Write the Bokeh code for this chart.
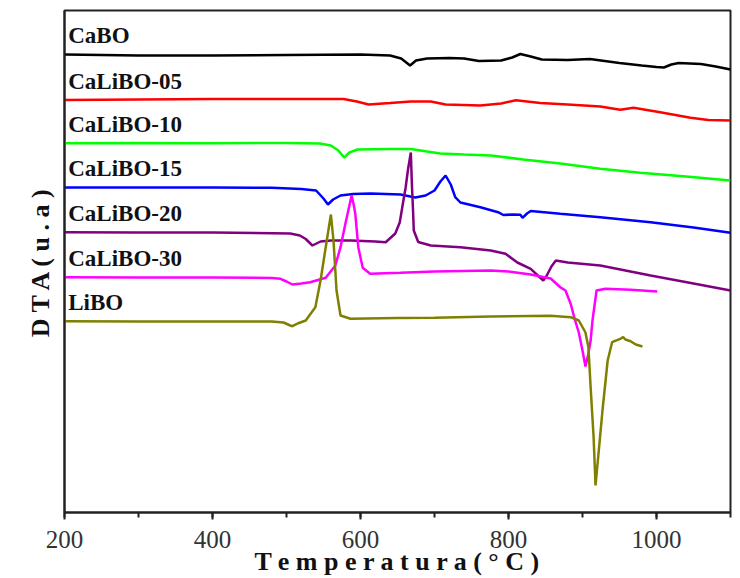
from bokeh.plotting import figure
from bokeh.models import Range1d, FixedTicker, SingleIntervalTicker
from bokeh.core.properties import value
from bokeh.embed import file_html
from bokeh.resources import INLINE

# Temperature (°C) and DTA signal (a.u., stacked traces)
cabo_t = [200, 300, 400, 500, 600, 640, 655, 667, 675, 690, 720, 740, 760, 790, 805, 816, 830, 845, 880, 910, 925, 950, 980, 1000, 1010, 1020, 1030, 1060, 1080, 1100]
cabo_y = [458, 457, 457, 457.5, 458, 457, 454, 447, 452, 454, 454.5, 454, 451.5, 452, 455, 458.5, 456, 453, 452.5, 453.5, 452, 449.5, 447, 445.5, 445, 448, 449.5, 448.5, 446, 443]

calibo05_t = [200, 300, 400, 500, 577, 595, 611, 640, 668, 695, 715, 762, 790, 810, 843, 880, 924, 951, 969, 1005, 1046, 1070, 1100]
calibo05_y = [412.5, 413, 413.5, 413.5, 413.5, 411, 408, 409.5, 411, 411, 408, 407, 409, 412.2, 409.5, 408, 406, 402.7, 404.7, 400.3, 394.7, 392.5, 392]

calibo10_t = [200, 300, 400, 500, 545, 560, 570, 578, 585, 596, 640, 668, 690, 708, 740, 776, 820, 870, 924, 978, 1040, 1100]
calibo10_y = [369.3, 369.5, 369.3, 369.5, 369, 367, 362, 355, 360, 363, 363.5, 363.5, 361, 359, 358, 357, 353, 349, 343.7, 339.7, 336, 332]

calibo15_t = [200, 300, 400, 480, 520, 540, 550, 556, 563, 573, 590, 614, 654, 674, 688, 700, 708, 715, 722, 728, 735, 762, 786, 793, 805, 816, 819, 825, 830, 870, 924, 992, 1050, 1100]
calibo15_y = [325, 325, 325, 324.7, 323.5, 322, 314, 308, 313, 317, 318.5, 319, 318, 315, 317, 322, 331, 337, 328, 315.3, 310, 305.3, 300.3, 297.5, 298, 297.7, 294.7, 299, 301.5, 298.7, 295.3, 290.3, 285, 279.7]

calibo20_t = [200, 300, 400, 505, 518, 526, 535, 546, 560, 587, 620, 634, 647, 653, 658, 661, 664, 668, 669.5, 671, 672, 678, 695, 735, 776, 796, 812, 830, 847, 851, 858, 864, 880, 924, 992, 1050, 1100]
calibo20_y = [280.3, 280, 280, 279, 277, 273.5, 267, 271, 272, 272, 271, 270.3, 279, 290, 312, 325, 342, 360, 327, 302, 282, 270.5, 267, 265.3, 262, 258.7, 250, 243.7, 232, 236, 246, 252, 250, 247, 237, 229, 222]

calibo30_t = [200, 300, 400, 480, 492, 500, 508, 520, 532, 553, 566, 573, 580, 585, 588, 591, 593, 597, 603, 613, 654, 700, 776, 800, 830, 857, 870, 877, 884, 890, 895, 900, 904, 908, 911, 913.5, 919, 931, 965, 1001]
calibo30_y = [235.3, 235, 235, 234.5, 233.7, 231, 228, 229, 230.3, 234.7, 247, 265.3, 290.3, 307, 317, 307, 298.7, 265.3, 244.7, 238.7, 239.7, 241, 242, 241, 238, 234, 225.3, 222, 208.7, 192, 180, 162, 146, 159, 172, 192, 222, 223.7, 222.7, 221]

libo_t = [200, 300, 400, 480, 496, 505, 508, 515, 526, 539, 546, 553, 560, 563.5, 567.6, 573, 586.5, 650, 700, 776, 857, 884, 895, 901, 904, 908, 911, 915, 917.6, 921.6, 927, 934, 940, 951, 955, 958, 965, 972, 981]
libo_y = [191.3, 191, 191, 191, 190, 187, 186.3, 189, 192, 205.3, 232, 265.3, 298, 272, 222, 197, 193.7, 194.5, 194.7, 196, 196.7, 195.3, 192, 184, 180, 165.3, 125.3, 75.3, 27, 58.7, 102, 152, 170.3, 173.7, 175.3, 173, 171.3, 168, 166]

names = ["CaBO", "CaLiBO-05", "CaLiBO-10", "CaLiBO-15", "CaLiBO-20", "CaLiBO-30", "LiBO"]
colors = ["#000000", "#ff0000", "#00ff00", "#0000ff", "#800080", "#ff00ff", "#808000"]
series = [(cabo_t, cabo_y), (calibo05_t, calibo05_y), (calibo10_t, calibo10_y),
          (calibo15_t, calibo15_y), (calibo20_t, calibo20_y), (calibo30_t, calibo30_y),
          (libo_t, libo_y)]

FONT = "Liberation Serif"

p = figure(frame_width=666, frame_height=502, output_backend="svg", toolbar_location=None,
           x_range=Range1d(200, 1100), y_range=Range1d(0, 502),
           min_border_left=64, min_border_right=10, min_border_top=10, min_border_bottom=66)
p.title.visible = False
p.grid.visible = False
p.background_fill_color = "white"
p.border_fill_color = "white"
p.outline_line_color = "#222222"
p.outline_line_width = 2

for (t, y), c in zip(series, colors):
    p.line(t, y, line_color=c, line_width=2.5)

for (t, y), name in zip(series, names):
    p.text(x=[t[0] + 5], y=[y[0] + 19], text=[name], text_font=value(FONT),
           text_font_size="23px", text_font_style="bold", text_color="#111111",
           text_baseline="alphabetic", text_align="left")

xa = p.xaxis[0]
xa.ticker = SingleIntervalTicker(interval=200, num_minor_ticks=2)
xa.axis_line_width = 2
xa.axis_line_color = "#222222"
xa.major_tick_line_width = 2
xa.major_tick_line_color = "#222222"
xa.major_tick_out = 7
xa.major_tick_in = 0
xa.minor_tick_line_width = 2
xa.minor_tick_line_color = "#222222"
xa.minor_tick_out = 5
xa.minor_tick_in = 0
xa.major_label_text_font = FONT
xa.major_label_text_font_size = "25px"
xa.major_label_text_color = "#333333"
xa.major_label_text_line_height = 0.8
xa.major_label_standoff = 11
xa.axis_label = "T e m p e r a t u r a ( ° C )"
xa.axis_label_text_font = FONT
xa.axis_label_text_font_size = "26px"
xa.axis_label_text_font_style = "bold"
xa.axis_label_text_color = "#111111"
xa.axis_label_text_line_height = 0.8
xa.axis_label_standoff = -4

ya = p.yaxis[0]
ya.ticker = FixedTicker(ticks=[])
ya.axis_line_width = 2
ya.axis_line_color = "#222222"
ya.major_tick_line_color = None
ya.minor_tick_line_color = None
ya.axis_label = "D T A ( u . a )"
ya.axis_label_text_font = FONT
ya.axis_label_text_font_size = "26px"
ya.axis_label_text_font_style = "bold"
ya.axis_label_text_color = "#111111"
ya.axis_label_standoff = 10

open("out.html", "w").write(file_html(p, INLINE))
